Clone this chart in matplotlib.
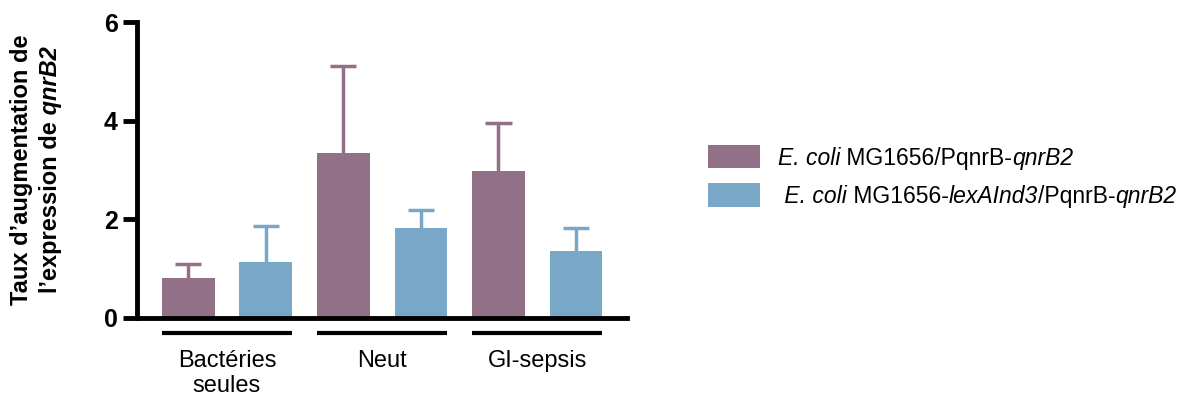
import numpy as np
import matplotlib
matplotlib.use("Agg")
import matplotlib.pyplot as plt
from matplotlib.patches import Patch

plt.rcParams["font.family"] = ["Liberation Sans", "DejaVu Sans"]

groups = ["Bactéries\nseules", "Neut", "GI-sepsis"]
wt_mean = [0.81, 3.35, 2.98]
wt_err = [0.29, 1.76, 0.97]
lexa_mean = [1.13, 1.82, 1.36]
lexa_err = [0.73, 0.38, 0.47]
# legend labels as (text, italic) pieces
series_labels = [
    [("E. coli", True), (" MG1656/PqnrB-", False), ("qnrB2", True)],
    [(" E. coli", True), (" MG1656-", False), ("lexAInd3", True), ("/PqnrB-", False), ("qnrB2", True)],
]
colors = ["#927087", "#79a7c7"]

fig = plt.figure(figsize=(11.87, 3.96), dpi=100)
ax = fig.add_axes([0.1154, 0.197, 0.413, 0.747])

x = np.arange(len(groups))
off = 0.25
w = 0.34
cap = 0.17
for i, (m, e) in enumerate([(wt_mean, wt_err), (lexa_mean, lexa_err)]):
    pos = x + (i * 2 - 1) * off
    m = np.array(m)
    e = np.array(e)
    ax.bar(pos, m, width=w, color=colors[i], zorder=2)
    ax.vlines(pos, m, m + e, color=colors[i], lw=2.5, zorder=1)
    ax.hlines(m + e, pos - cap / 2, pos + cap / 2, color=colors[i], lw=2.5, zorder=1)

ax.set_ylim(0, 6)
ax.set_xlim(-0.58, 2.58)
ax.set_yticks([0, 2, 4, 6])
for s in ["top", "right"]:
    ax.spines[s].set_visible(False)
ax.spines["left"].set_linewidth(3.5)
ax.spines["bottom"].set_linewidth(3.5)
ax.tick_params(axis="y", width=3.5, length=10, labelsize=18, pad=4)
for t in ax.get_yticklabels():
    t.set_fontweight("bold")

ax.set_xticks(x)
ax.set_xticklabels(groups, fontsize=17, linespacing=1.2)
ax.tick_params(axis="x", length=0, pad=23)

trans = ax.get_xaxis_transform()
for g in x:
    ax.plot([g - off - w / 2, g + off + w / 2], [-0.05, -0.05], color="black",
            lw=3, transform=trans, clip_on=False, solid_capstyle="butt")

# y label, two lines, second with italic gene name
fig.text(22 / 1187, 1 - 170 / 396, "Taux d\u2019augmentation de", rotation=90,
         ha="center", va="center", fontsize=17, fontweight="bold")
t1 = fig.text(51 / 1187, 1 - 293 / 396, "l\u2019expression de", rotation=90,
              ha="center", va="bottom", fontsize=17, fontweight="bold")
ax.annotate(" qnrB2", xy=(0.5, 1), xycoords=t1, rotation=90, ha="center", va="bottom",
            fontsize=17, fontweight="bold", style="italic")

handles = [Patch(facecolor=c) for c in colors]
leg = fig.legend(handles, [p[0][0] for p in series_labels], loc="center left",
                 bbox_to_anchor=(708 / 1187, 1 - 176.5 / 396), frameon=False, fontsize=16.5,
                 handlelength=2.27, handleheight=1.18, handletextpad=0.78,
                 labelspacing=0.6, borderpad=0, borderaxespad=0)
for txt in leg.get_texts():
    txt.set_style("italic")
fig.canvas.draw()

for txt, pieces in zip(leg.get_texts(), series_labels):
    prev = txt
    for s, it in pieces[1:]:
        prev = fig.add_artist(matplotlib.text.Annotation(
            s, xy=(1, 0), xycoords=prev, ha="left", va="bottom", fontsize=16.5,
            style="italic" if it else "normal", zorder=6))

fig.savefig("out.png", dpi=100)
